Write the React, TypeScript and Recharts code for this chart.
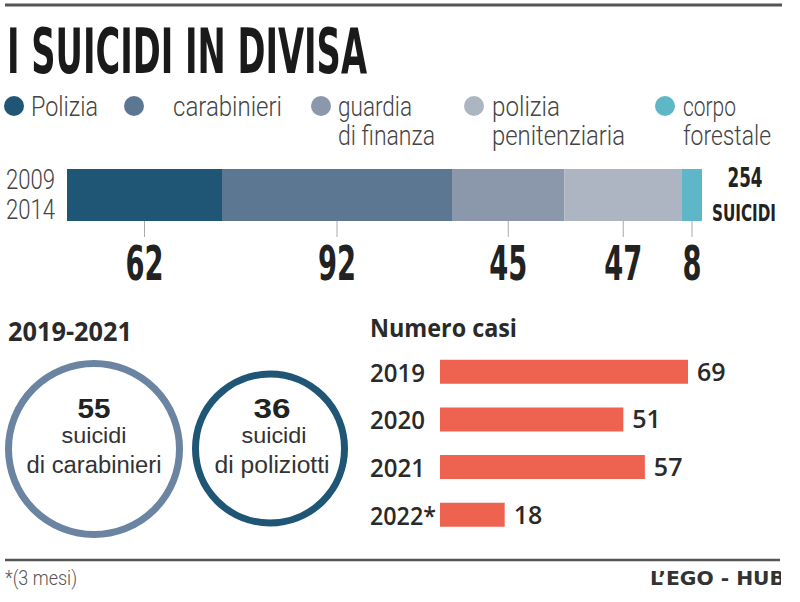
import React from "react";
import { BarChart, Bar, XAxis, YAxis, LabelList } from "recharts";

// 2009-2014, suicidi per corpo
const corpi = ["Polizia", "carabinieri", "guardia di finanza", "polizia penitenziaria", "corpo forestale"];
const corpiKeys = ["polizia", "carabinieri", "finanza", "penitenziaria", "forestale"];
const suicidi0914 = [62, 92, 45, 47, 8];
const periodo = "2009-2014";
const totale = 254;

// 2019-2021
const cerchiValori = [55, 36];
const cerchiTesti = ["di carabinieri", "di poliziotti"];

// numero casi per anno
const anni = ["2019", "2020", "2021", "2022*"];
const casi = [69, 51, 57, 18];

const colori = ["#1f5675", "#5b7792", "#8b98ab", "#adb5c2", "#5eb7c6"];
const CORAL = "#ee6350";
const DARK = "#222";

const NARROW = "'Liberation Sans Narrow', 'DejaVu Sans Condensed', Roboto, sans-serif";
const LIGHT = "Roboto, 'Liberation Sans Narrow', sans-serif";
const SANS = "'Open Sans', 'Noto Sans', sans-serif";
const ARIAL = "'Liberation Sans', Arial, sans-serif";

type TProps = {
  x: number;
  y: number;
  w?: number;
  size: number;
  weight?: number | string;
  family?: string;
  fill?: string;
  anchor?: "start" | "middle" | "end";
  children: React.ReactNode;
};

function T({ x, y, w, size, weight = 400, family = SANS, fill = DARK, anchor = "start", children }: TProps) {
  return (
    <text
      x={x}
      y={y}
      fontSize={size}
      fontWeight={weight}
      fontFamily={family}
      fill={fill}
      textAnchor={anchor}
      textLength={w}
      lengthAdjust={w ? "spacingAndGlyphs" : undefined}
    >
      {children}
    </text>
  );
}

// legend placement (circle x, text x, width line1, width line2)
const legendPos = [
  { cx: 14, tx: 31, w1: 67, w2: 0 },
  { cx: 134, tx: 173, w1: 109, w2: 0 },
  { cx: 321, tx: 338, w1: 74, w2: 97 },
  { cx: 474, tx: 492, w1: 68, w2: 133 },
  { cx: 665, tx: 683, w1: 53, w2: 88 },
];

const stackData = [
  corpiKeys.reduce((acc: Record<string, any>, k, i) => {
    acc[k] = suicidi0914[i];
    return acc;
  }, { periodo }),
];

const casiData = anni.map((anno, i) => ({ anno, casi: casi[i] }));

function SegmentLabel(props: any) {
  const { x, y, width, height, value } = props;
  const cx = x + width / 2;
  const bottom = y + height;
  const digits = String(value).length;
  return (
    <g>
      <line x1={cx} x2={cx} y1={bottom} y2={bottom + 16} stroke="#aaa" strokeWidth={1} />
      <T x={cx} y={bottom + 59} w={digits * 19} size={48} weight={700} family={NARROW} anchor="middle">
        {value}
      </T>
    </g>
  );
}

function YearTick(props: any) {
  const { y, payload } = props;
  const label = String(payload.value);
  return (
    <T x={10} y={y + 10} w={label.length > 4 ? 66 : 55} size={26} weight={600} fill="#2a2a2a">
      {label}
    </T>
  );
}

export default function App() {
  return (
    <div style={{ position: "absolute", left: 0, top: 0, width: 800, height: 602, background: "#fff", overflow: "hidden" }}>
      <svg width={800} height={602} style={{ position: "absolute", left: 0, top: 0 }}>
        <defs>
          <clipPath id="pageClip">
            <rect x={0} y={0} width={781} height={602} />
          </clipPath>
        </defs>
        <line x1={5} x2={782} y1={5} y2={5} stroke="#555" strokeWidth={3} />
        <T x={7} y={73} w={360} size={63} weight={700} family={NARROW} fill="#1a1a1a">
          I SUICIDI IN DIVISA
        </T>

        {corpi.map((c, i) => {
          const sp = c.indexOf(" ");
          const l1 = sp < 0 ? c : c.slice(0, sp);
          const l2 = sp < 0 ? "" : c.slice(sp + 1);
          const p = legendPos[i];
          return (
            <g key={c}>
              <circle cx={p.cx} cy={106} r={10} fill={colori[i]} />
              <T x={p.tx} y={116} w={p.w1} size={27} weight={300} family={LIGHT} fill="#444">
                {l1}
              </T>
              {l2 && (
                <T x={p.tx} y={145} w={p.w2} size={27} weight={300} family={LIGHT} fill="#444">
                  {l2}
                </T>
              )}
            </g>
          );
        })}

        <T x={6} y={189} w={49} size={27} weight={300} family={LIGHT} fill="#444">
          {periodo.split("-")[0]}
        </T>
        <T x={6} y={219} w={49} size={27} weight={300} family={LIGHT} fill="#444">
          {periodo.split("-")[1]}
        </T>
        <T x={745} y={187} w={35} size={26} weight={700} family={NARROW} anchor="middle">
          {totale}
        </T>
        <T x={744} y={221} w={64} size={23} weight={700} family={NARROW} anchor="middle">
          SUICIDI
        </T>

        <T x={8} y={341} w={124} size={26} weight={700} fill="#2a2a2a">
          2019-2021
        </T>
        <circle cx={94} cy={449} r={85.5} fill="none" stroke="#6a84a1" strokeWidth={7} />
        <circle cx={270} cy={448.5} r={74.5} fill="none" stroke={colori[0]} strokeWidth={7} />
        {[
          { cx: 94, w0: 33, w1: 65, w2: 135 },
          { cx: 272, w0: 37, w1: 65, w2: 115 },
        ].map((c, i) => (
          <g key={i}>
            <T x={c.cx} y={418} w={c.w0} size={27} weight={700} family={ARIAL} anchor="middle">
              {cerchiValori[i]}
            </T>
            <T x={c.cx + (i ? 2 : 0)} y={443} w={c.w1} size={22} family={ARIAL} fill="#333" anchor="middle">
              suicidi
            </T>
            <T x={c.cx} y={473} w={c.w2} size={23} family={ARIAL} fill="#333" anchor="middle">
              {cerchiTesti[i]}
            </T>
          </g>
        ))}

        <T x={370} y={337} w={147} size={25} weight={700} fill="#2a2a2a">
          Numero casi
        </T>

        <line x1={5} x2={780} y1={560} y2={560} stroke="#555" strokeWidth={2.5} />
        <T x={5} y={585} w={72} size={20} weight={300} family={LIGHT} fill="#555">
          *(3 mesi)
        </T>
        <g clipPath="url(#pageClip)">
          <T x={650} y={585} w={135} size={20} weight={700} family="'DejaVu Sans', sans-serif" fill="#333">
            L’EGO - HUB
          </T>
        </g>
      </svg>

      <div style={{ position: "absolute", left: 0, top: 140 }}>
        <BarChart
          width={800}
          height={150}
          data={stackData}
          layout="vertical"
          margin={{ top: 29, right: 98, bottom: 69, left: 67 }}
          barCategoryGap={0}
        >
          <XAxis type="number" hide domain={[0, totale]} />
          <YAxis type="category" dataKey="periodo" hide />
          {corpiKeys.map((k, i) => (
            <Bar key={k} dataKey={k} stackId="a" fill={colori[i]} isAnimationActive={false}>
              <LabelList dataKey={k} content={SegmentLabel} />
            </Bar>
          ))}
        </BarChart>
      </div>

      <div style={{ position: "absolute", left: 360, top: 320 }}>
        <BarChart
          width={440}
          height={260}
          data={casiData}
          layout="vertical"
          margin={{ top: 27.7, right: 108.4, bottom: 41.5, left: 0 }}
          barSize={24}
        >
          <XAxis type="number" hide domain={[0, 70]} />
          <YAxis
            type="category"
            dataKey="anno"
            width={80}
            axisLine={false}
            tickLine={false}
            tick={YearTick}
            interval={0}
          />
          <Bar dataKey="casi" fill={CORAL} isAnimationActive={false}>
            <LabelList
              dataKey="casi"
              position="right"
              offset={9}
              style={{ fontFamily: SANS, fontSize: 25, fontWeight: 600, fill: "#2a2a2a" }}
            />
          </Bar>
        </BarChart>
      </div>
    </div>
  );
}
